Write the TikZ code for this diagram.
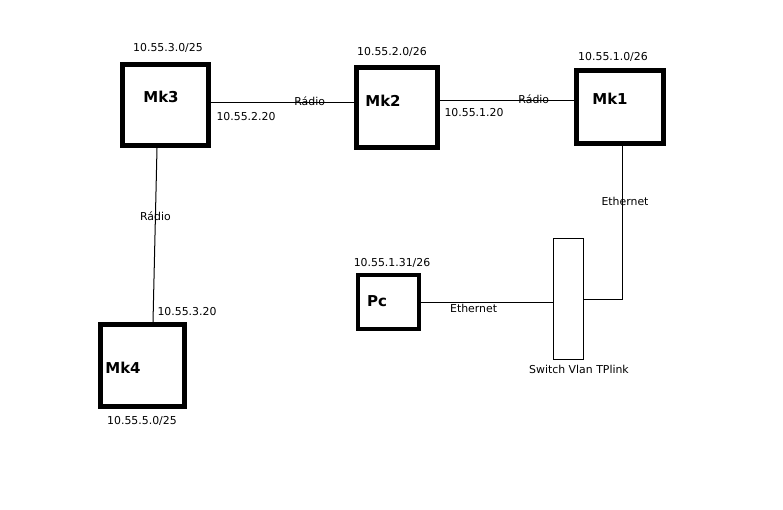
\documentclass[tikz,border=0pt]{standalone}
\usepackage{fontspec}
\setmainfont{DejaVu Sans}
\tikzset{
  dev/.style={draw, line width=5pt, inner sep=0pt},
  devname/.style={font=\bfseries\fontsize{15}{17}\selectfont, inner sep=0pt},
  ip/.style={font=\fontsize{10.9}{12}\selectfont, inner sep=0pt},
}
\begin{document}
\begin{tikzpicture}[x=1pt, y=-1pt, line width=1pt]
\useasboundingbox (0,0) rectangle (783,510);
\node[dev, minimum width=86pt, minimum height=81pt] (mk3) at (165.5,105) {};
\node[dev, minimum width=81pt, minimum height=80pt] (mk2) at (397,107.5) {};
\node[dev, minimum width=87pt, minimum height=73pt] (mk1) at (620,107) {};
\node[dev, minimum width=84pt, minimum height=82pt] (mk4) at (142.5,365.5) {};
\node[dev, line width=4pt, minimum width=61pt, minimum height=54pt] (pc) at (388.5,302) {};
\node[draw, minimum width=30pt, minimum height=120pt] (sw) at (568,299) {};
\node[devname] (n3) at (161,97) {Mk3};
\node[devname] (n2) at (383,101) {Mk2};
\node[devname] (n1) at (610,99) {Mk1};
\node[devname] (n4) at (123,368) {Mk4};
\node[devname] (npc) at (377,301) {Pc};
\node[ip] (a3) at (168,48) {10.55.3.0/25};
\node[ip] (a2) at (392,52) {10.55.2.0/26};
\node[ip] (a1) at (613,57) {10.55.1.0/26};
\node[ip] (a4) at (142,421) {10.55.5.0/25};
\node[ip] (apc) at (392,263) {10.55.1.31/26};
\draw ([yshift=2pt]mk3.east) -- ([yshift=4.5pt]mk2.west) node[ip, pos=0.69, yshift=2pt] {Rádio};
\draw ([yshift=6.5pt]mk2.east) -- ([yshift=6pt]mk1.west) node[ip, pos=0.7, yshift=2pt] {Rádio};
\draw ([xshift=-8.5pt]mk3.south) -- ([xshift=10.5pt]mk4.north) node[ip, pos=0.39] {Rádio};
\draw ([xshift=2pt]mk1.south) |- (sw.east) node[ip, pos=0.18, xshift=3pt] {Ethernet};
\draw (pc.east) -- (pc.east -| sw.west) node[ip, pos=0.4, below=2pt] {Ethernet};
\node[ip] (i32) at (246,117) {10.55.2.20};
\node[ip] (i21) at (474,113) {10.55.1.20};
\node[ip] (i43) at (187,312) {10.55.3.20};
\node[ip] (swl) at (579,369) {Switch Vlan TPlink};
\end{tikzpicture}
\end{document}
